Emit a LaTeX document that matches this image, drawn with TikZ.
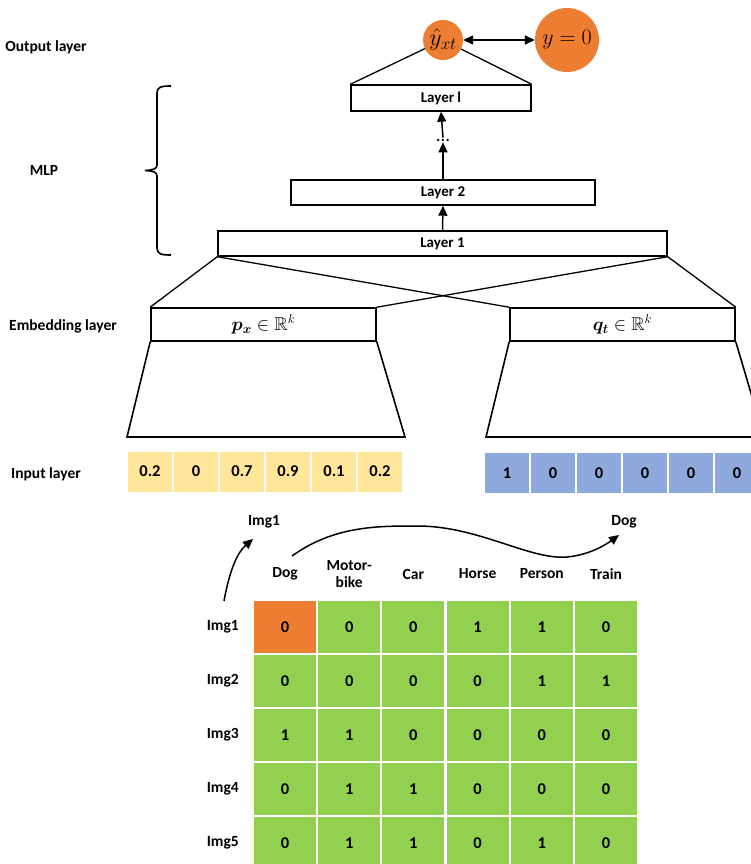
\RequirePackage{fix-cm}
\documentclass[tikz,border=0pt]{standalone}
\usepackage{amsmath,amssymb,bm}
\usepackage[no-math]{fontspec}
\setmainfont{Carlito}
\usetikzlibrary{arrows.meta}
\definecolor{orng}{HTML}{ED7D31}
\definecolor{grn}{HTML}{92D050}
\definecolor{ylw}{HTML}{FFE699}
\definecolor{blu}{HTML}{8EA9DB}
\tikzset{
  lbl/.style={font=\fontsize{15.5}{17}\selectfont\bfseries, inner sep=0pt},
  layerbox/.style={draw, line width=1.4pt, minimum height=25pt, inner sep=0pt,
    font=\fontsize{15}{17}\selectfont\bfseries},
  embbox/.style={draw, line width=1.6pt, minimum width=225pt, minimum height=33pt, inner sep=0pt},
  cell/.style={minimum width=44pt, minimum height=40pt, inner sep=0pt,
    font=\fontsize{16.5}{18}\selectfont\bfseries},
  gcell/.style={fill=grn, minimum width=62pt, minimum height=52pt, inner sep=0pt,
    font=\fontsize{16.5}{18}\selectfont\bfseries},
  edge/.style={line width=1.3pt},
  arr/.style={line width=1.5pt, -{Triangle[length=10pt,width=9pt]}},
}
\begin{document}
\begin{tikzpicture}[x=1pt,y=-1pt]
\clip (0,0) rectangle (751,864);
\useasboundingbox (0,0) rectangle (751,864);

% layer captions on the left
\node[lbl] (capout) at (46,47) {Output layer};
\node[lbl] (capmlp) at (44,170) {MLP};
\node[lbl] (capemb) at (63,326) {Embedding layer};
\node[lbl] (capin) at (46,474) {Input layer};

% output
\node[circle, fill=orng, minimum size=40pt, inner sep=0pt, font=\fontsize{24}{26}\selectfont] (yhat) at (443,40) {$\hat{y}_{xt}$};
\node[circle, fill=orng, minimum size=64pt, inner sep=0pt, font=\fontsize{22}{24}\selectfont] (ytrue) at (567,40) {$y=0$};
\draw[line width=1.5pt, {Triangle[length=10pt,width=9pt]}-{Triangle[length=10pt,width=9pt]}] (yhat) -- (ytrue);

% MLP stack
\node[layerbox, minimum width=180pt, minimum height=26pt] (Ll) at (441,98) {Layer l};
\node[inner sep=1pt, font=\fontsize{19}{21}\selectfont] (dots) at (443,140) {...};
\node[layerbox, minimum width=304pt] (L2) at (443,192.5) {Layer 2};
\node[layerbox, minimum width=449pt] (L1) at (442.5,243.5) {Layer 1};
\draw[edge] (yhat) -- (Ll.north west);
\draw[edge] (yhat) -- (Ll.north east);
\draw[arr] (dots.north) -- (Ll.south);
\draw[arr] (L2.north) -- (dots.south);
\draw[arr] (L1.north) -- (L2.south);

% brace marking the MLP
\draw[line width=1.6pt] (171,86) .. controls (161,86) and (157,87) .. (157,93)
  -- (157,165) .. controls (157,169) and (153,170) .. (145,170.5)
  .. controls (153,171) and (157,172) .. (157,176)
  -- (157,248) .. controls (157,254) and (161,255) .. (171,255);

% embeddings
\node[embbox, font=\fontsize{18.5}{20}\selectfont] (px) at (263.5,324.5) {$\bm{p}_{\bm{x}}\in\mathbb{R}^{k}$};
\node[embbox, font=\fontsize{18.5}{20}\selectfont] (qt) at (622.5,324.5) {$\bm{q}_{\bm{t}}\in\mathbb{R}^{k}$};
\draw[edge] (L1.south west) -- (px.north west);
\draw[edge] (L1.south west) -- (qt.north west);
\draw[edge] (L1.south east) -- (px.north east);
\draw[edge] (L1.south east) -- (qt.north east);

% projection trapezoids
\coordinate (pbl) at (127,437);
\coordinate (pbr) at (405,437);
\coordinate (qbl) at (486,437);
\coordinate (qbr) at (764,437);
\draw[line width=1.6pt] (px.south west) -- (pbl) -- (pbr) -- (px.south east);
\draw[line width=1.6pt] (qt.south west) -- (qbl) -- (qbr) -- (qt.south east);

% input vectors
\foreach \v [count=\i from 0] in {0.2,0,0.7,0.9,0.1,0.2}
  \node[cell, fill=ylw] (x\i) at (150+46*\i,471.5) {\v};
\foreach \v [count=\i from 0] in {1,0,0,0,0,0}
  \node[cell, fill=blu] (t\i) at (507+46*\i,473) {\v};

% interaction matrix
\foreach \h [count=\j from 0] in {Dog,{Motor-\\bike},Car,Horse,Person,Train}
  \node[lbl, align=center] (h\j) at (285+64.2*\j,574) {\h};
\foreach \r [count=\i from 1] in {{0,0,0,1,1,0},{0,0,0,0,1,1},{1,1,0,0,0,0},{0,1,1,0,0,0},{0,1,1,0,1,0}}{
  \node[lbl, anchor=east] (r\i) at (239,573+54*\i) {Img\i};
  \foreach \v [count=\j from 0] in \r
    \node[gcell] (m\i\j) at (285+64.2*\j,573+54*\i) {\v};
}
\node[gcell, fill=orng] (m10o) at (285,627) {0};

% Img1 / Dog pointers
\node[lbl] (img1) at (264,522) {Img1};
\node[lbl] (dog) at (624,522) {Dog};
\coordinate (a0) at (224,601);
\coordinate (b0) at (292,556);
\draw[arr] (a0) .. controls (230,568) and (238,552) .. (253,539);
\draw[arr] (b0) .. controls (335,525) and (380,526) .. (420,526)
  .. controls (480,527) and (530,560) .. (567,557)
  .. controls (588,555) and (604,546) .. (619,535);
\end{tikzpicture}
\end{document}
